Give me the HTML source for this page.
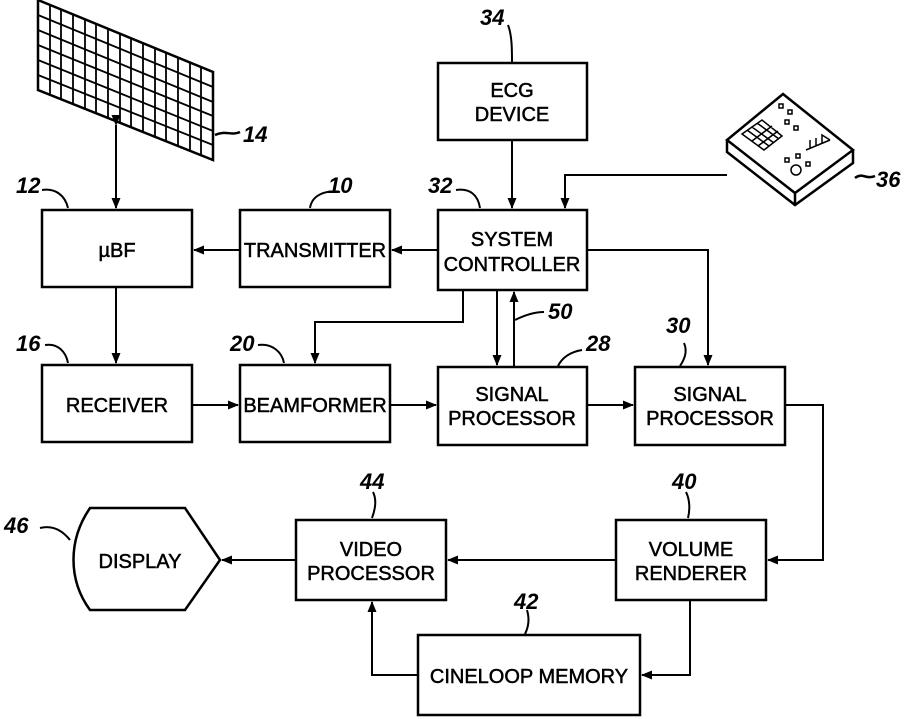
<!DOCTYPE html>
<html><head><style>body{margin:0;background:#fff}svg{display:block}text{font-family:"Liberation Sans",sans-serif;fill:#000}</style></head><body>
<svg width="911" height="719" viewBox="0 0 911 719" xmlns="http://www.w3.org/2000/svg">
<defs><marker id="a" markerWidth="11" markerHeight="9" refX="10" refY="4.5" orient="auto" markerUnits="userSpaceOnUse"><path d="M0,0 L11,4.5 L0,9 Z" fill="#000"/></marker></defs>
<g stroke="#000" stroke-width="2.5" fill="none">
<path d="M38,0 L213,72 L213,160 L38,90 Z"/>
<g stroke-width="1.8">
<path d="M38,15 L213,87 M38,30 L213,102 M38,45 L213,116 M38,60 L213,131 M38,75 L213,145"/>
<path d="M50,5 L50,95 M61,9 L61,99 M73,14 L73,104 M85,19 L85,109 M96,24 L96,114 M108,29 L108,118 M120,33 L120,123 M131,38 L131,128 M143,43 L143,132 M155,48 L155,137 M166,53 L166,142 M178,57 L178,146 M190,62 L190,151 M201,67 L201,155"/>
</g>
<path d="M215,135 C225,130 232,136 240,132"/>
<path d="M727,140 L783,94 L853,150 L795,193 Z M727,140 L727,152 L795,205 L853,163 L853,150 M795,193 L795,205"/>
<g stroke-width="1.5">
<path d="M742,134 L762,120 L782,136 L764,150 Z M747,130 L769,146 M752,127 L774,143 M757,123 L779,139 M752,141 L772,126 M758,146 L778,131"/>
<rect x="779" y="104" width="4" height="4"/><rect x="788" y="110" width="4" height="4"/><rect x="785" y="120" width="4" height="4"/><rect x="794" y="126" width="4" height="4"/>
<rect x="785" y="158" width="4" height="4"/><rect x="796" y="154" width="4" height="4"/><rect x="806" y="162" width="4" height="4"/>
<path d="M806,150 L830,140 M810,148 L810,140 M816,146 L816,138 M822,143 L822,135 L830,140"/>
</g>
<circle cx="796" cy="170" r="5" stroke-width="1.5"/>
<path d="M855,178 C862,172 866,180 875,176"/>
<rect x="42" y="210" width="150" height="77"/>
<rect x="240" y="210" width="150" height="77"/>
<rect x="438" y="210" width="149" height="80"/>
<rect x="438" y="63" width="149" height="77"/>
<rect x="42" y="365" width="150" height="77"/>
<rect x="240" y="365" width="150" height="77"/>
<rect x="438" y="367" width="149" height="78"/>
<rect x="635" y="367" width="150" height="78"/>
<rect x="296" y="520" width="150" height="80"/>
<rect x="616" y="520" width="150" height="80"/>
<rect x="418" y="635" width="222" height="80"/>
<path d="M90,508 L185,508 L220,560 L185,610 L90,610 C68,580 68,540 90,508 Z"/>
<g stroke-width="2">
<path d="M42,190 C55,188 65,195 68,208"/>
<path d="M340,192 C325,190 312,195 310,208"/>
<path d="M456,190 C470,188 478,195 480,208"/>
<path d="M508,25 C512,35 512,50 512,62"/>
<path d="M45,345 C58,343 66,352 68,363"/>
<path d="M258,345 C272,343 282,352 284,363"/>
<path d="M582,350 C570,352 562,358 558,366"/>
<path d="M684,343 C688,352 684,360 680,366"/>
<path d="M544,312 C535,312 525,315 515,320"/>
<path d="M40,528 C52,525 62,530 70,540"/>
<path d="M373,492 C377,500 375,510 372,518"/>
<path d="M686,492 C690,500 690,510 688,518"/>
<path d="M527,610 C530,620 528,628 525,634"/>
</g>
<g stroke-width="2">
<path d="M116,125 L116,208" marker-end="url(#a)" marker-start="url(#a)"/>
<path d="M116,287 L116,363" marker-end="url(#a)"/>
<path d="M240,250 L194,250" marker-end="url(#a)"/>
<path d="M438,250 L392,250" marker-end="url(#a)"/>
<path d="M512,140 L512,208" marker-end="url(#a)"/>
<path d="M727,175 L565,175 L565,208" marker-end="url(#a)"/>
<path d="M587,250 L708,250 L708,365" marker-end="url(#a)"/>
<path d="M463,290 L463,322 L315,322 L315,363" marker-end="url(#a)"/>
<path d="M497,290 L497,365" marker-end="url(#a)"/>
<path d="M514,367 L514,292" marker-end="url(#a)"/>
<path d="M192,405 L238,405" marker-end="url(#a)"/>
<path d="M390,405 L436,405" marker-end="url(#a)"/>
<path d="M587,405 L633,405" marker-end="url(#a)"/>
<path d="M785,405 L823,405 L823,560 L768,560" marker-end="url(#a)"/>
<path d="M616,560 L448,560" marker-end="url(#a)"/>
<path d="M296,560 L222,560" marker-end="url(#a)"/>
<path d="M690,600 L690,675 L642,675" marker-end="url(#a)"/>
<path d="M418,675 L372,675 L372,602" marker-end="url(#a)"/>
</g>
</g>
<g font-size="20" text-anchor="middle" stroke="#000" stroke-width="0.5">
<text x="117" y="257">µBF</text>
<text x="315" y="257">TRANSMITTER</text>
<text x="512" y="246">SYSTEM</text><text x="512" y="271">CONTROLLER</text>
<text x="512" y="97">ECG</text><text x="512" y="121">DEVICE</text>
<text x="117" y="412">RECEIVER</text>
<text x="315" y="412">BEAMFORMER</text>
<text x="512" y="401">SIGNAL</text><text x="512" y="425">PROCESSOR</text>
<text x="710" y="401">SIGNAL</text><text x="710" y="425">PROCESSOR</text>
<text x="371" y="556">VIDEO</text><text x="371" y="580">PROCESSOR</text>
<text x="691" y="556">VOLUME</text><text x="691" y="580">RENDERER</text>
<text x="529" y="683">CINELOOP MEMORY</text>
<text x="140" y="568">DISPLAY</text>
</g>
<g font-size="22" font-weight="bold" font-style="italic">
<text x="243" y="142">14</text>
<text x="16" y="193">12</text>
<text x="328" y="193">10</text>
<text x="428" y="193">32</text>
<text x="480" y="25">34</text>
<text x="876" y="187">36</text>
<text x="16" y="351">16</text>
<text x="230" y="351">20</text>
<text x="586" y="351">28</text>
<text x="666" y="333">30</text>
<text x="548" y="319">50</text>
<text x="4" y="533">46</text>
<text x="360" y="489">44</text>
<text x="672" y="489">40</text>
<text x="514" y="609">42</text>
</g>
</svg>
</body></html>
